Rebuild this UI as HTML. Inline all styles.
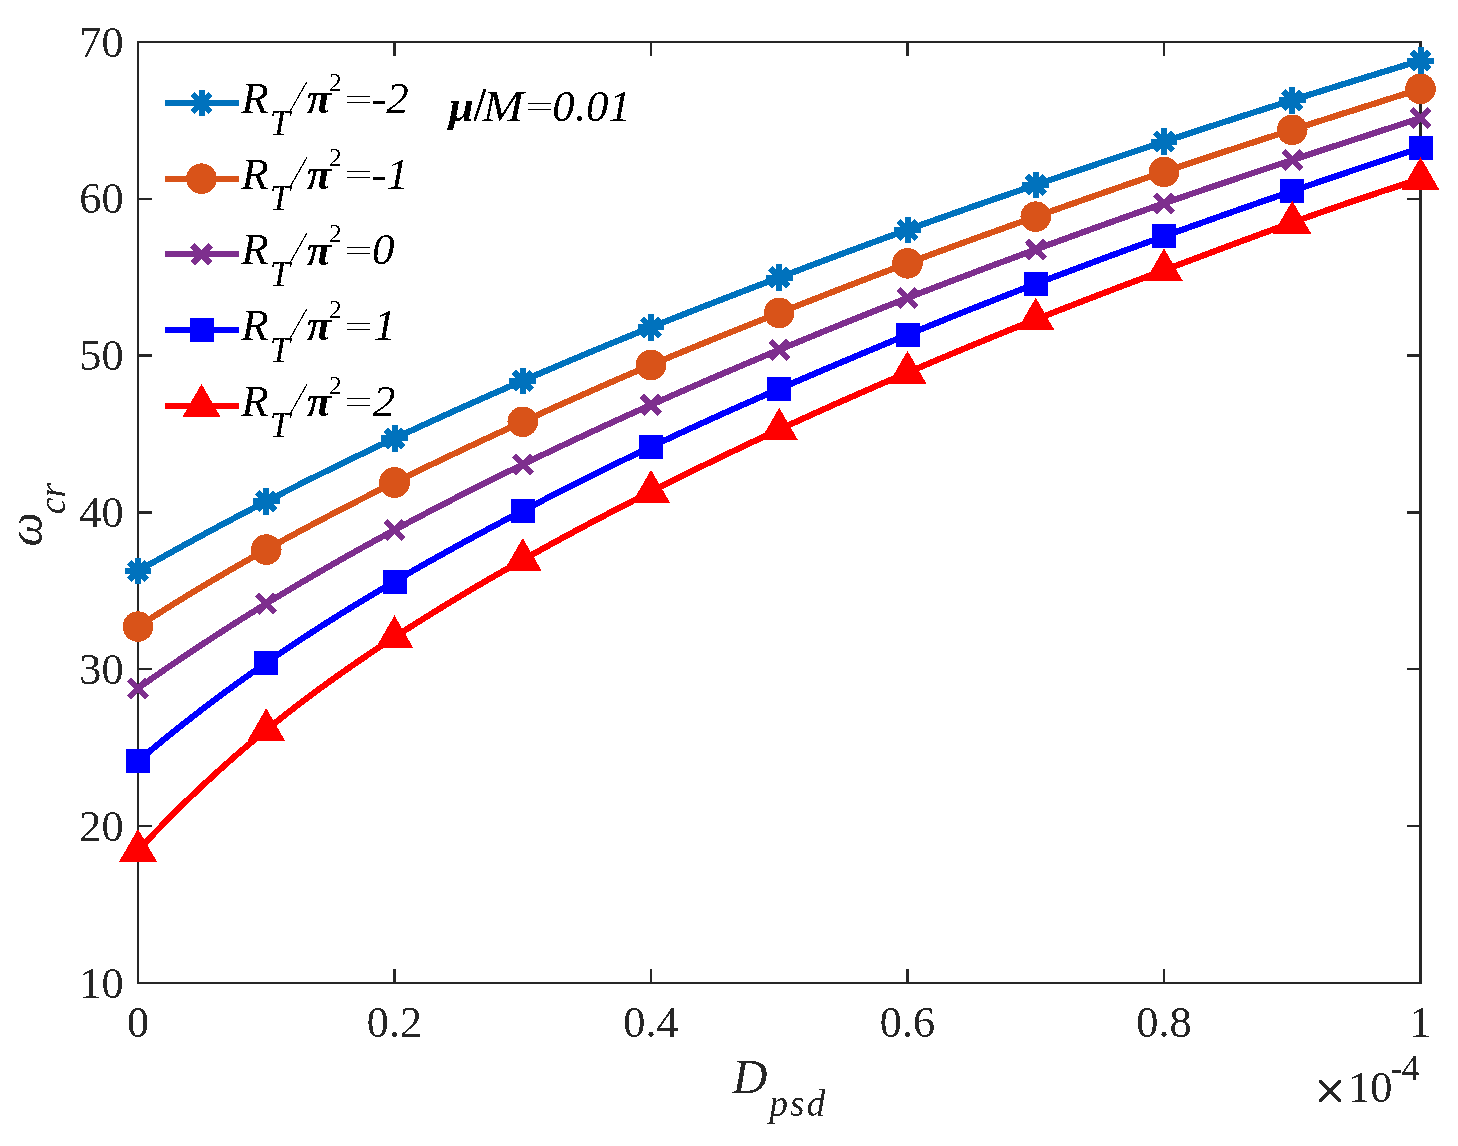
<!DOCTYPE html>
<html><head><meta charset="utf-8"><style>
html,body{margin:0;padding:0;background:#fff;}
body{width:1458px;height:1146px;overflow:hidden;}
svg{display:block;}
path,rect,circle{shape-rendering:crispEdges;}
text{font-family:"Liberation Serif",serif;}
</style></head><body>
<svg width="1458" height="1146" viewBox="0 0 1458 1146">
<defs><filter id="al" x="0" y="0" width="1458" height="1146" filterUnits="userSpaceOnUse" color-interpolation-filters="sRGB"><feComponentTransfer><feFuncA type="discrete" tableValues="0 1"/></feComponentTransfer></filter></defs>
<rect width="1458" height="1146" fill="#fff"/>
<path d="M138.00 571.00 L143.34 567.95 L148.69 564.92 L154.03 561.90 L159.38 558.90 L164.72 555.90 L170.06 552.92 L175.41 549.96 L180.75 547.00 L186.09 544.06 L191.44 541.13 L196.78 538.21 L202.12 535.31 L207.47 532.42 L212.81 529.54 L218.16 526.67 L223.50 523.81 L228.84 520.97 L234.19 518.14 L239.53 515.32 L244.88 512.51 L250.22 509.72 L255.56 506.93 L260.91 504.16 L266.25 501.40 L271.59 498.65 L276.94 495.91 L282.28 493.19 L287.62 490.47 L292.97 487.77 L298.31 485.07 L303.66 482.39 L309.00 479.72 L314.34 477.06 L319.69 474.41 L325.03 471.77 L330.38 469.14 L335.72 466.52 L341.06 463.92 L346.41 461.32 L351.75 458.73 L357.09 456.16 L362.44 453.59 L367.78 451.03 L373.12 448.49 L378.47 445.95 L383.81 443.42 L389.16 440.91 L394.50 438.40 L399.84 435.90 L405.19 433.41 L410.53 430.94 L415.88 428.47 L421.22 426.01 L426.56 423.55 L431.91 421.11 L437.25 418.68 L442.59 416.25 L447.94 413.83 L453.28 411.43 L458.62 409.02 L463.97 406.63 L469.31 404.25 L474.66 401.87 L480.00 399.50 L485.34 397.14 L490.69 394.78 L496.03 392.43 L501.38 390.09 L506.72 387.76 L512.06 385.43 L517.41 383.11 L522.75 380.80 L528.09 378.49 L533.44 376.19 L538.78 373.90 L544.12 371.61 L549.47 369.33 L554.81 367.05 L560.16 364.79 L565.50 362.53 L570.84 360.27 L576.19 358.02 L581.53 355.78 L586.88 353.55 L592.22 351.32 L597.56 349.10 L602.91 346.89 L608.25 344.68 L613.59 342.49 L618.94 340.29 L624.28 338.11 L629.62 335.93 L634.97 333.76 L640.31 331.60 L645.66 329.45 L651.00 327.30 L656.34 325.16 L661.69 323.03 L667.03 320.90 L672.38 318.78 L677.72 316.67 L683.06 314.57 L688.41 312.47 L693.75 310.37 L699.09 308.29 L704.44 306.20 L709.78 304.13 L715.12 302.06 L720.47 299.99 L725.81 297.93 L731.16 295.87 L736.50 293.81 L741.84 291.76 L747.19 289.72 L752.53 287.67 L757.88 285.63 L763.22 283.60 L768.56 281.56 L773.91 279.53 L779.25 277.50 L784.59 275.47 L789.94 273.45 L795.28 271.42 L800.62 269.40 L805.97 267.39 L811.31 265.37 L816.66 263.36 L822.00 261.35 L827.34 259.34 L832.69 257.34 L838.03 255.35 L843.38 253.35 L848.72 251.36 L854.06 249.38 L859.41 247.40 L864.75 245.42 L870.09 243.45 L875.44 241.48 L880.78 239.52 L886.12 237.57 L891.47 235.62 L896.81 233.67 L902.16 231.73 L907.50 229.80 L912.84 227.87 L918.19 225.95 L923.53 224.04 L928.88 222.13 L934.22 220.23 L939.56 218.33 L944.91 216.44 L950.25 214.55 L955.59 212.67 L960.94 210.79 L966.28 208.92 L971.62 207.05 L976.97 205.18 L982.31 203.32 L987.66 201.47 L993.00 199.61 L998.34 197.76 L1003.69 195.92 L1009.03 194.08 L1014.38 192.23 L1019.72 190.40 L1025.06 188.56 L1030.41 186.73 L1035.75 184.90 L1041.09 183.07 L1046.44 181.25 L1051.78 179.42 L1057.12 177.60 L1062.47 175.78 L1067.81 173.96 L1073.16 172.15 L1078.50 170.34 L1083.84 168.53 L1089.19 166.72 L1094.53 164.92 L1099.88 163.11 L1105.22 161.31 L1110.56 159.52 L1115.91 157.72 L1121.25 155.93 L1126.59 154.14 L1131.94 152.36 L1137.28 150.57 L1142.62 148.79 L1147.97 147.01 L1153.31 145.24 L1158.66 143.47 L1164.00 141.70 L1169.34 139.93 L1174.69 138.17 L1180.03 136.41 L1185.38 134.66 L1190.72 132.90 L1196.06 131.15 L1201.41 129.41 L1206.75 127.66 L1212.09 125.92 L1217.44 124.19 L1222.78 122.45 L1228.12 120.72 L1233.47 118.99 L1238.81 117.27 L1244.16 115.55 L1249.50 113.83 L1254.84 112.11 L1260.19 110.40 L1265.53 108.69 L1270.88 106.99 L1276.22 105.29 L1281.56 103.59 L1286.91 101.89 L1292.25 100.20 L1297.59 98.51 L1302.94 96.83 L1308.28 95.14 L1313.62 93.46 L1318.97 91.79 L1324.31 90.12 L1329.66 88.45 L1335.00 86.78 L1340.34 85.12 L1345.69 83.46 L1351.03 81.81 L1356.38 80.15 L1361.72 78.51 L1367.06 76.86 L1372.41 75.22 L1377.75 73.58 L1383.09 71.95 L1388.44 70.31 L1393.78 68.69 L1399.12 67.06 L1404.47 65.44 L1409.81 63.82 L1415.16 62.21 L1420.50 60.60" stroke="#0072BD" stroke-width="6.2" fill="none" stroke-linejoin="round"/>
<path d="M138.00 626.60 L143.34 623.15 L148.69 619.72 L154.03 616.32 L159.38 612.93 L164.72 609.57 L170.06 606.23 L175.41 602.92 L180.75 599.62 L186.09 596.35 L191.44 593.09 L196.78 589.86 L202.12 586.65 L207.47 583.45 L212.81 580.28 L218.16 577.13 L223.50 574.00 L228.84 570.88 L234.19 567.79 L239.53 564.71 L244.88 561.65 L250.22 558.61 L255.56 555.59 L260.91 552.59 L266.25 549.60 L271.59 546.63 L276.94 543.68 L282.28 540.74 L287.62 537.82 L292.97 534.92 L298.31 532.03 L303.66 529.16 L309.00 526.30 L314.34 523.46 L319.69 520.64 L325.03 517.83 L330.38 515.03 L335.72 512.25 L341.06 509.48 L346.41 506.72 L351.75 503.98 L357.09 501.25 L362.44 498.54 L367.78 495.83 L373.12 493.14 L378.47 490.46 L383.81 487.80 L389.16 485.14 L394.50 482.50 L399.84 479.87 L405.19 477.25 L410.53 474.64 L415.88 472.04 L421.22 469.45 L426.56 466.87 L431.91 464.30 L437.25 461.73 L442.59 459.18 L447.94 456.64 L453.28 454.10 L458.62 451.58 L463.97 449.06 L469.31 446.55 L474.66 444.04 L480.00 441.55 L485.34 439.06 L490.69 436.57 L496.03 434.10 L501.38 431.63 L506.72 429.16 L512.06 426.70 L517.41 424.25 L522.75 421.80 L528.09 419.36 L533.44 416.92 L538.78 414.48 L544.12 412.05 L549.47 409.63 L554.81 407.21 L560.16 404.80 L565.50 402.40 L570.84 400.00 L576.19 397.61 L581.53 395.23 L586.88 392.85 L592.22 390.48 L597.56 388.12 L602.91 385.77 L608.25 383.42 L613.59 381.09 L618.94 378.76 L624.28 376.44 L629.62 374.14 L634.97 371.84 L640.31 369.55 L645.66 367.27 L651.00 365.00 L656.34 362.74 L661.69 360.49 L667.03 358.25 L672.38 356.03 L677.72 353.81 L683.06 351.60 L688.41 349.39 L693.75 347.20 L699.09 345.01 L704.44 342.83 L709.78 340.66 L715.12 338.49 L720.47 336.33 L725.81 334.18 L731.16 332.03 L736.50 329.89 L741.84 327.75 L747.19 325.62 L752.53 323.49 L757.88 321.37 L763.22 319.25 L768.56 317.13 L773.91 315.01 L779.25 312.90 L784.59 310.79 L789.94 308.68 L795.28 306.58 L800.62 304.47 L805.97 302.37 L811.31 300.28 L816.66 298.18 L822.00 296.09 L827.34 294.01 L832.69 291.93 L838.03 289.85 L843.38 287.77 L848.72 285.70 L854.06 283.64 L859.41 281.58 L864.75 279.53 L870.09 277.48 L875.44 275.43 L880.78 273.40 L886.12 271.36 L891.47 269.34 L896.81 267.32 L902.16 265.31 L907.50 263.30 L912.84 261.30 L918.19 259.31 L923.53 257.32 L928.88 255.34 L934.22 253.37 L939.56 251.40 L944.91 249.44 L950.25 247.48 L955.59 245.53 L960.94 243.58 L966.28 241.64 L971.62 239.70 L976.97 237.77 L982.31 235.84 L987.66 233.91 L993.00 231.99 L998.34 230.07 L1003.69 228.15 L1009.03 226.24 L1014.38 224.32 L1019.72 222.42 L1025.06 220.51 L1030.41 218.60 L1035.75 216.70 L1041.09 214.80 L1046.44 212.90 L1051.78 211.00 L1057.12 209.10 L1062.47 207.21 L1067.81 205.32 L1073.16 203.43 L1078.50 201.54 L1083.84 199.66 L1089.19 197.78 L1094.53 195.90 L1099.88 194.03 L1105.22 192.16 L1110.56 190.29 L1115.91 188.43 L1121.25 186.57 L1126.59 184.72 L1131.94 182.87 L1137.28 181.03 L1142.62 179.19 L1147.97 177.36 L1153.31 175.54 L1158.66 173.71 L1164.00 171.90 L1169.34 170.09 L1174.69 168.29 L1180.03 166.49 L1185.38 164.70 L1190.72 162.91 L1196.06 161.13 L1201.41 159.36 L1206.75 157.59 L1212.09 155.82 L1217.44 154.06 L1222.78 152.31 L1228.12 150.55 L1233.47 148.81 L1238.81 147.06 L1244.16 145.32 L1249.50 143.58 L1254.84 141.85 L1260.19 140.12 L1265.53 138.39 L1270.88 136.67 L1276.22 134.95 L1281.56 133.23 L1286.91 131.51 L1292.25 129.80 L1297.59 128.09 L1302.94 126.38 L1308.28 124.67 L1313.62 122.96 L1318.97 121.26 L1324.31 119.55 L1329.66 117.85 L1335.00 116.15 L1340.34 114.45 L1345.69 112.75 L1351.03 111.05 L1356.38 109.35 L1361.72 107.65 L1367.06 105.95 L1372.41 104.25 L1377.75 102.54 L1383.09 100.84 L1388.44 99.14 L1393.78 97.44 L1399.12 95.73 L1404.47 94.03 L1409.81 92.32 L1415.16 90.61 L1420.50 88.90" stroke="#D95319" stroke-width="6.2" fill="none" stroke-linejoin="round"/>
<path d="M138.00 688.30 L143.34 684.52 L148.69 680.77 L154.03 677.04 L159.38 673.33 L164.72 669.64 L170.06 665.98 L175.41 662.34 L180.75 658.72 L186.09 655.12 L191.44 651.55 L196.78 648.00 L202.12 644.47 L207.47 640.96 L212.81 637.47 L218.16 634.00 L223.50 630.55 L228.84 627.13 L234.19 623.72 L239.53 620.34 L244.88 616.97 L250.22 613.62 L255.56 610.30 L260.91 606.99 L266.25 603.70 L271.59 600.43 L276.94 597.18 L282.28 593.95 L287.62 590.73 L292.97 587.54 L298.31 584.36 L303.66 581.20 L309.00 578.06 L314.34 574.93 L319.69 571.82 L325.03 568.73 L330.38 565.66 L335.72 562.60 L341.06 559.56 L346.41 556.53 L351.75 553.52 L357.09 550.53 L362.44 547.55 L367.78 544.59 L373.12 541.64 L378.47 538.71 L383.81 535.79 L389.16 532.89 L394.50 530.00 L399.84 527.13 L405.19 524.26 L410.53 521.42 L415.88 518.58 L421.22 515.76 L426.56 512.96 L431.91 510.16 L437.25 507.38 L442.59 504.62 L447.94 501.86 L453.28 499.12 L458.62 496.39 L463.97 493.67 L469.31 490.96 L474.66 488.27 L480.00 485.58 L485.34 482.91 L490.69 480.25 L496.03 477.60 L501.38 474.96 L506.72 472.33 L512.06 469.71 L517.41 467.10 L522.75 464.50 L528.09 461.91 L533.44 459.33 L538.78 456.76 L544.12 454.20 L549.47 451.65 L554.81 449.11 L560.16 446.58 L565.50 444.06 L570.84 441.54 L576.19 439.04 L581.53 436.54 L586.88 434.06 L592.22 431.58 L597.56 429.11 L602.91 426.65 L608.25 424.20 L613.59 421.76 L618.94 419.33 L624.28 416.90 L629.62 414.48 L634.97 412.08 L640.31 409.68 L645.66 407.28 L651.00 404.90 L656.34 402.52 L661.69 400.16 L667.03 397.80 L672.38 395.44 L677.72 393.10 L683.06 390.76 L688.41 388.43 L693.75 386.11 L699.09 383.79 L704.44 381.48 L709.78 379.18 L715.12 376.88 L720.47 374.59 L725.81 372.31 L731.16 370.03 L736.50 367.76 L741.84 365.50 L747.19 363.24 L752.53 360.99 L757.88 358.74 L763.22 356.50 L768.56 354.26 L773.91 352.03 L779.25 349.80 L784.59 347.58 L789.94 345.36 L795.28 343.15 L800.62 340.94 L805.97 338.74 L811.31 336.55 L816.66 334.36 L822.00 332.17 L827.34 329.99 L832.69 327.82 L838.03 325.65 L843.38 323.49 L848.72 321.33 L854.06 319.18 L859.41 317.03 L864.75 314.89 L870.09 312.76 L875.44 310.63 L880.78 308.51 L886.12 306.40 L891.47 304.29 L896.81 302.19 L902.16 300.09 L907.50 298.00 L912.84 295.92 L918.19 293.84 L923.53 291.77 L928.88 289.71 L934.22 287.65 L939.56 285.60 L944.91 283.55 L950.25 281.51 L955.59 279.47 L960.94 277.44 L966.28 275.42 L971.62 273.40 L976.97 271.38 L982.31 269.37 L987.66 267.37 L993.00 265.37 L998.34 263.37 L1003.69 261.38 L1009.03 259.39 L1014.38 257.40 L1019.72 255.42 L1025.06 253.44 L1030.41 251.47 L1035.75 249.50 L1041.09 247.53 L1046.44 245.57 L1051.78 243.61 L1057.12 241.65 L1062.47 239.70 L1067.81 237.75 L1073.16 235.80 L1078.50 233.86 L1083.84 231.92 L1089.19 229.99 L1094.53 228.06 L1099.88 226.13 L1105.22 224.21 L1110.56 222.29 L1115.91 220.38 L1121.25 218.48 L1126.59 216.57 L1131.94 214.68 L1137.28 212.78 L1142.62 210.90 L1147.97 209.01 L1153.31 207.14 L1158.66 205.27 L1164.00 203.40 L1169.34 201.54 L1174.69 199.69 L1180.03 197.84 L1185.38 195.99 L1190.72 194.15 L1196.06 192.32 L1201.41 190.49 L1206.75 188.66 L1212.09 186.84 L1217.44 185.03 L1222.78 183.22 L1228.12 181.41 L1233.47 179.61 L1238.81 177.81 L1244.16 176.01 L1249.50 174.22 L1254.84 172.43 L1260.19 170.65 L1265.53 168.87 L1270.88 167.09 L1276.22 165.31 L1281.56 163.54 L1286.91 161.77 L1292.25 160.00 L1297.59 158.23 L1302.94 156.47 L1308.28 154.71 L1313.62 152.95 L1318.97 151.20 L1324.31 149.44 L1329.66 147.69 L1335.00 145.94 L1340.34 144.18 L1345.69 142.44 L1351.03 140.69 L1356.38 138.94 L1361.72 137.19 L1367.06 135.45 L1372.41 133.70 L1377.75 131.96 L1383.09 130.21 L1388.44 128.47 L1393.78 126.73 L1399.12 124.98 L1404.47 123.24 L1409.81 121.49 L1415.16 119.75 L1420.50 118.00" stroke="#7E2F8E" stroke-width="6.2" fill="none" stroke-linejoin="round"/>
<path d="M138.00 761.10 L143.34 756.58 L148.69 752.09 L154.03 747.65 L159.38 743.25 L164.72 738.88 L170.06 734.56 L175.41 730.27 L180.75 726.03 L186.09 721.81 L191.44 717.64 L196.78 713.50 L202.12 709.40 L207.47 705.33 L212.81 701.30 L218.16 697.31 L223.50 693.34 L228.84 689.41 L234.19 685.52 L239.53 681.65 L244.88 677.82 L250.22 674.02 L255.56 670.25 L260.91 666.51 L266.25 662.80 L271.59 659.12 L276.94 655.47 L282.28 651.85 L287.62 648.25 L292.97 644.69 L298.31 641.15 L303.66 637.63 L309.00 634.15 L314.34 630.69 L319.69 627.25 L325.03 623.84 L330.38 620.45 L335.72 617.09 L341.06 613.74 L346.41 610.43 L351.75 607.13 L357.09 603.86 L362.44 600.60 L367.78 597.37 L373.12 594.16 L378.47 590.96 L383.81 587.79 L389.16 584.64 L394.50 581.50 L399.84 578.38 L405.19 575.28 L410.53 572.20 L415.88 569.13 L421.22 566.08 L426.56 563.04 L431.91 560.02 L437.25 557.02 L442.59 554.03 L447.94 551.06 L453.28 548.10 L458.62 545.15 L463.97 542.22 L469.31 539.30 L474.66 536.40 L480.00 533.51 L485.34 530.63 L490.69 527.76 L496.03 524.91 L501.38 522.06 L506.72 519.23 L512.06 516.41 L517.41 513.60 L522.75 510.80 L528.09 508.01 L533.44 505.23 L538.78 502.46 L544.12 499.70 L549.47 496.95 L554.81 494.21 L560.16 491.49 L565.50 488.77 L570.84 486.06 L576.19 483.37 L581.53 480.68 L586.88 478.01 L592.22 475.34 L597.56 472.69 L602.91 470.05 L608.25 467.42 L613.59 464.80 L618.94 462.20 L624.28 459.60 L629.62 457.02 L634.97 454.45 L640.31 451.89 L645.66 449.34 L651.00 446.80 L656.34 444.28 L661.69 441.76 L667.03 439.26 L672.38 436.77 L677.72 434.29 L683.06 431.82 L688.41 429.36 L693.75 426.92 L699.09 424.48 L704.44 422.05 L709.78 419.63 L715.12 417.22 L720.47 414.82 L725.81 412.42 L731.16 410.04 L736.50 407.66 L741.84 405.29 L747.19 402.93 L752.53 400.58 L757.88 398.23 L763.22 395.89 L768.56 393.55 L773.91 391.22 L779.25 388.90 L784.59 386.58 L789.94 384.27 L795.28 381.96 L800.62 379.66 L805.97 377.37 L811.31 375.08 L816.66 372.80 L822.00 370.52 L827.34 368.24 L832.69 365.98 L838.03 363.71 L843.38 361.46 L848.72 359.21 L854.06 356.96 L859.41 354.72 L864.75 352.48 L870.09 350.25 L875.44 348.03 L880.78 345.81 L886.12 343.60 L891.47 341.39 L896.81 339.19 L902.16 336.99 L907.50 334.80 L912.84 332.61 L918.19 330.43 L923.53 328.26 L928.88 326.09 L934.22 323.92 L939.56 321.76 L944.91 319.61 L950.25 317.46 L955.59 315.32 L960.94 313.19 L966.28 311.05 L971.62 308.93 L976.97 306.81 L982.31 304.70 L987.66 302.59 L993.00 300.49 L998.34 298.39 L1003.69 296.31 L1009.03 294.22 L1014.38 292.15 L1019.72 290.08 L1025.06 288.01 L1030.41 285.95 L1035.75 283.90 L1041.09 281.85 L1046.44 279.81 L1051.78 277.78 L1057.12 275.75 L1062.47 273.73 L1067.81 271.72 L1073.16 269.71 L1078.50 267.70 L1083.84 265.70 L1089.19 263.71 L1094.53 261.72 L1099.88 259.74 L1105.22 257.76 L1110.56 255.78 L1115.91 253.82 L1121.25 251.85 L1126.59 249.89 L1131.94 247.94 L1137.28 245.99 L1142.62 244.04 L1147.97 242.10 L1153.31 240.16 L1158.66 238.23 L1164.00 236.30 L1169.34 234.37 L1174.69 232.45 L1180.03 230.53 L1185.38 228.62 L1190.72 226.71 L1196.06 224.80 L1201.41 222.90 L1206.75 221.00 L1212.09 219.10 L1217.44 217.21 L1222.78 215.32 L1228.12 213.44 L1233.47 211.56 L1238.81 209.68 L1244.16 207.81 L1249.50 205.93 L1254.84 204.07 L1260.19 202.20 L1265.53 200.35 L1270.88 198.49 L1276.22 196.64 L1281.56 194.79 L1286.91 192.94 L1292.25 191.10 L1297.59 189.26 L1302.94 187.43 L1308.28 185.59 L1313.62 183.77 L1318.97 181.94 L1324.31 180.12 L1329.66 178.30 L1335.00 176.49 L1340.34 174.68 L1345.69 172.87 L1351.03 171.06 L1356.38 169.26 L1361.72 167.46 L1367.06 165.67 L1372.41 163.88 L1377.75 162.09 L1383.09 160.30 L1388.44 158.52 L1393.78 156.74 L1399.12 154.97 L1404.47 153.20 L1409.81 151.43 L1415.16 149.66 L1420.50 147.90" stroke="#0000FF" stroke-width="6.2" fill="none" stroke-linejoin="round"/>
<path d="M138.00 850.70 L143.34 844.93 L148.69 839.24 L154.03 833.62 L159.38 828.06 L164.72 822.58 L170.06 817.16 L175.41 811.80 L180.75 806.52 L186.09 801.29 L191.44 796.14 L196.78 791.04 L202.12 786.00 L207.47 781.03 L212.81 776.11 L218.16 771.25 L223.50 766.45 L228.84 761.71 L234.19 757.02 L239.53 752.39 L244.88 747.81 L250.22 743.28 L255.56 738.80 L260.91 734.38 L266.25 730.00 L271.59 725.67 L276.94 721.39 L282.28 717.16 L287.62 712.97 L292.97 708.82 L298.31 704.72 L303.66 700.66 L309.00 696.65 L314.34 692.67 L319.69 688.73 L325.03 684.83 L330.38 680.97 L335.72 677.15 L341.06 673.36 L346.41 669.60 L351.75 665.88 L357.09 662.19 L362.44 658.54 L367.78 654.91 L373.12 651.31 L378.47 647.74 L383.81 644.20 L389.16 640.69 L394.50 637.20 L399.84 633.74 L405.19 630.30 L410.53 626.88 L415.88 623.49 L421.22 620.12 L426.56 616.77 L431.91 613.44 L437.25 610.14 L442.59 606.86 L447.94 603.60 L453.28 600.35 L458.62 597.13 L463.97 593.93 L469.31 590.75 L474.66 587.59 L480.00 584.44 L485.34 581.32 L490.69 578.21 L496.03 575.11 L501.38 572.04 L506.72 568.98 L512.06 565.94 L517.41 562.91 L522.75 559.90 L528.09 556.90 L533.44 553.92 L538.78 550.95 L544.12 548.00 L549.47 545.06 L554.81 542.13 L560.16 539.22 L565.50 536.32 L570.84 533.44 L576.19 530.56 L581.53 527.70 L586.88 524.86 L592.22 522.02 L597.56 519.20 L602.91 516.39 L608.25 513.59 L613.59 510.80 L618.94 508.03 L624.28 505.26 L629.62 502.51 L634.97 499.77 L640.31 497.03 L645.66 494.31 L651.00 491.60 L656.34 488.90 L661.69 486.21 L667.03 483.53 L672.38 480.85 L677.72 478.19 L683.06 475.54 L688.41 472.90 L693.75 470.27 L699.09 467.65 L704.44 465.03 L709.78 462.43 L715.12 459.84 L720.47 457.26 L725.81 454.69 L731.16 452.12 L736.50 449.57 L741.84 447.03 L747.19 444.49 L752.53 441.97 L757.88 439.46 L763.22 436.95 L768.56 434.46 L773.91 431.97 L779.25 429.50 L784.59 427.03 L789.94 424.58 L795.28 422.13 L800.62 419.70 L805.97 417.27 L811.31 414.85 L816.66 412.44 L822.00 410.04 L827.34 407.64 L832.69 405.26 L838.03 402.88 L843.38 400.51 L848.72 398.14 L854.06 395.79 L859.41 393.44 L864.75 391.10 L870.09 388.77 L875.44 386.44 L880.78 384.12 L886.12 381.80 L891.47 379.49 L896.81 377.19 L902.16 374.89 L907.50 372.60 L912.84 370.31 L918.19 368.03 L923.53 365.76 L928.88 363.49 L934.22 361.22 L939.56 358.97 L944.91 356.72 L950.25 354.47 L955.59 352.23 L960.94 350.00 L966.28 347.77 L971.62 345.55 L976.97 343.34 L982.31 341.14 L987.66 338.94 L993.00 336.75 L998.34 334.57 L1003.69 332.39 L1009.03 330.22 L1014.38 328.06 L1019.72 325.91 L1025.06 323.76 L1030.41 321.63 L1035.75 319.50 L1041.09 317.38 L1046.44 315.27 L1051.78 313.16 L1057.12 311.07 L1062.47 308.98 L1067.81 306.90 L1073.16 304.82 L1078.50 302.75 L1083.84 300.69 L1089.19 298.63 L1094.53 296.57 L1099.88 294.52 L1105.22 292.48 L1110.56 290.44 L1115.91 288.40 L1121.25 286.37 L1126.59 284.34 L1131.94 282.32 L1137.28 280.29 L1142.62 278.27 L1147.97 276.25 L1153.31 274.23 L1158.66 272.22 L1164.00 270.20 L1169.34 268.18 L1174.69 266.17 L1180.03 264.16 L1185.38 262.15 L1190.72 260.14 L1196.06 258.13 L1201.41 256.12 L1206.75 254.12 L1212.09 252.12 L1217.44 250.12 L1222.78 248.12 L1228.12 246.13 L1233.47 244.15 L1238.81 242.16 L1244.16 240.18 L1249.50 238.21 L1254.84 236.24 L1260.19 234.27 L1265.53 232.31 L1270.88 230.36 L1276.22 228.41 L1281.56 226.47 L1286.91 224.53 L1292.25 222.60 L1297.59 220.68 L1302.94 218.76 L1308.28 216.85 L1313.62 214.95 L1318.97 213.06 L1324.31 211.17 L1329.66 209.29 L1335.00 207.43 L1340.34 205.57 L1345.69 203.71 L1351.03 201.87 L1356.38 200.04 L1361.72 198.22 L1367.06 196.41 L1372.41 194.61 L1377.75 192.82 L1383.09 191.04 L1388.44 189.27 L1393.78 187.51 L1399.12 185.76 L1404.47 184.03 L1409.81 182.31 L1415.16 180.60 L1420.50 178.90" stroke="#FF0000" stroke-width="6.2" fill="none" stroke-linejoin="round"/>
<path d="M138.00 982.90V968.90M138.00 42.00V56.00M394.50 982.90V968.90M394.50 42.00V56.00M651.00 982.90V968.90M651.00 42.00V56.00M907.50 982.90V968.90M907.50 42.00V56.00M1164.00 982.90V968.90M1164.00 42.00V56.00M1420.50 982.90V968.90M1420.50 42.00V56.00M138.00 982.90H152.00M1420.50 982.90H1406.50M138.00 826.08H152.00M1420.50 826.08H1406.50M138.00 669.27H152.00M1420.50 669.27H1406.50M138.00 512.45H152.00M1420.50 512.45H1406.50M138.00 355.63H152.00M1420.50 355.63H1406.50M138.00 198.82H152.00M1420.50 198.82H1406.50M138.00 42.00H152.00M1420.50 42.00H1406.50" stroke="#262626" stroke-width="2.4" fill="none"/>
<rect x="138.00" y="42.00" width="1282.50" height="940.90" stroke="#262626" stroke-width="2.4" fill="none"/>
<path d="M138.00 557.70V584.30M124.70 571.00H151.30M129.10 562.10L146.90 579.90M129.10 579.90L146.90 562.10" stroke="#0072BD" stroke-width="6.0" fill="none"/>
<path d="M266.25 488.10V514.70M252.95 501.40H279.55M257.35 492.50L275.15 510.30M257.35 510.30L275.15 492.50" stroke="#0072BD" stroke-width="6.0" fill="none"/>
<path d="M394.50 425.10V451.70M381.20 438.40H407.80M385.60 429.50L403.40 447.30M385.60 447.30L403.40 429.50" stroke="#0072BD" stroke-width="6.0" fill="none"/>
<path d="M522.75 367.50V394.10M509.45 380.80H536.05M513.85 371.90L531.65 389.70M513.85 389.70L531.65 371.90" stroke="#0072BD" stroke-width="6.0" fill="none"/>
<path d="M651.00 314.00V340.60M637.70 327.30H664.30M642.10 318.40L659.90 336.20M642.10 336.20L659.90 318.40" stroke="#0072BD" stroke-width="6.0" fill="none"/>
<path d="M779.25 264.20V290.80M765.95 277.50H792.55M770.35 268.60L788.15 286.40M770.35 286.40L788.15 268.60" stroke="#0072BD" stroke-width="6.0" fill="none"/>
<path d="M907.50 216.50V243.10M894.20 229.80H920.80M898.60 220.90L916.40 238.70M898.60 238.70L916.40 220.90" stroke="#0072BD" stroke-width="6.0" fill="none"/>
<path d="M1035.75 171.60V198.20M1022.45 184.90H1049.05M1026.85 176.00L1044.65 193.80M1026.85 193.80L1044.65 176.00" stroke="#0072BD" stroke-width="6.0" fill="none"/>
<path d="M1164.00 128.40V155.00M1150.70 141.70H1177.30M1155.10 132.80L1172.90 150.60M1155.10 150.60L1172.90 132.80" stroke="#0072BD" stroke-width="6.0" fill="none"/>
<path d="M1292.25 86.90V113.50M1278.95 100.20H1305.55M1283.35 91.30L1301.15 109.10M1283.35 109.10L1301.15 91.30" stroke="#0072BD" stroke-width="6.0" fill="none"/>
<path d="M1420.50 47.30V73.90M1407.20 60.60H1433.80M1411.60 51.70L1429.40 69.50M1411.60 69.50L1429.40 51.70" stroke="#0072BD" stroke-width="6.0" fill="none"/>
<circle cx="138.00" cy="626.60" r="15.3" fill="#D95319"/>
<circle cx="266.25" cy="549.60" r="15.3" fill="#D95319"/>
<circle cx="394.50" cy="482.50" r="15.3" fill="#D95319"/>
<circle cx="522.75" cy="421.80" r="15.3" fill="#D95319"/>
<circle cx="651.00" cy="365.00" r="15.3" fill="#D95319"/>
<circle cx="779.25" cy="312.90" r="15.3" fill="#D95319"/>
<circle cx="907.50" cy="263.30" r="15.3" fill="#D95319"/>
<circle cx="1035.75" cy="216.70" r="15.3" fill="#D95319"/>
<circle cx="1164.00" cy="171.90" r="15.3" fill="#D95319"/>
<circle cx="1292.25" cy="129.80" r="15.3" fill="#D95319"/>
<circle cx="1420.50" cy="88.90" r="15.3" fill="#D95319"/>
<path d="M129.00 679.30L147.00 697.30M129.00 697.30L147.00 679.30" stroke="#7E2F8E" stroke-width="6.0" fill="none"/>
<path d="M257.25 594.70L275.25 612.70M257.25 612.70L275.25 594.70" stroke="#7E2F8E" stroke-width="6.0" fill="none"/>
<path d="M385.50 521.00L403.50 539.00M385.50 539.00L403.50 521.00" stroke="#7E2F8E" stroke-width="6.0" fill="none"/>
<path d="M513.75 455.50L531.75 473.50M513.75 473.50L531.75 455.50" stroke="#7E2F8E" stroke-width="6.0" fill="none"/>
<path d="M642.00 395.90L660.00 413.90M642.00 413.90L660.00 395.90" stroke="#7E2F8E" stroke-width="6.0" fill="none"/>
<path d="M770.25 340.80L788.25 358.80M770.25 358.80L788.25 340.80" stroke="#7E2F8E" stroke-width="6.0" fill="none"/>
<path d="M898.50 289.00L916.50 307.00M898.50 307.00L916.50 289.00" stroke="#7E2F8E" stroke-width="6.0" fill="none"/>
<path d="M1026.75 240.50L1044.75 258.50M1026.75 258.50L1044.75 240.50" stroke="#7E2F8E" stroke-width="6.0" fill="none"/>
<path d="M1155.00 194.40L1173.00 212.40M1155.00 212.40L1173.00 194.40" stroke="#7E2F8E" stroke-width="6.0" fill="none"/>
<path d="M1283.25 151.00L1301.25 169.00M1283.25 169.00L1301.25 151.00" stroke="#7E2F8E" stroke-width="6.0" fill="none"/>
<path d="M1411.50 109.00L1429.50 127.00M1411.50 127.00L1429.50 109.00" stroke="#7E2F8E" stroke-width="6.0" fill="none"/>
<rect x="126.00" y="749.10" width="24" height="24" fill="#0000FF"/>
<rect x="254.25" y="650.80" width="24" height="24" fill="#0000FF"/>
<rect x="382.50" y="569.50" width="24" height="24" fill="#0000FF"/>
<rect x="510.75" y="498.80" width="24" height="24" fill="#0000FF"/>
<rect x="639.00" y="434.80" width="24" height="24" fill="#0000FF"/>
<rect x="767.25" y="376.90" width="24" height="24" fill="#0000FF"/>
<rect x="895.50" y="322.80" width="24" height="24" fill="#0000FF"/>
<rect x="1023.75" y="271.90" width="24" height="24" fill="#0000FF"/>
<rect x="1152.00" y="224.30" width="24" height="24" fill="#0000FF"/>
<rect x="1280.25" y="179.10" width="24" height="24" fill="#0000FF"/>
<rect x="1408.50" y="135.90" width="24" height="24" fill="#0000FF"/>
<path d="M138.00 828.90L156.88 861.60L119.12 861.60Z" fill="#FF0000"/>
<path d="M266.25 708.20L285.13 740.90L247.37 740.90Z" fill="#FF0000"/>
<path d="M394.50 615.40L413.38 648.10L375.62 648.10Z" fill="#FF0000"/>
<path d="M522.75 538.10L541.63 570.80L503.87 570.80Z" fill="#FF0000"/>
<path d="M651.00 469.80L669.88 502.50L632.12 502.50Z" fill="#FF0000"/>
<path d="M779.25 407.70L798.13 440.40L760.37 440.40Z" fill="#FF0000"/>
<path d="M907.50 350.80L926.38 383.50L888.62 383.50Z" fill="#FF0000"/>
<path d="M1035.75 297.70L1054.63 330.40L1016.87 330.40Z" fill="#FF0000"/>
<path d="M1164.00 248.40L1182.88 281.10L1145.12 281.10Z" fill="#FF0000"/>
<path d="M1292.25 200.80L1311.13 233.50L1273.37 233.50Z" fill="#FF0000"/>
<path d="M1420.50 157.10L1439.38 189.80L1401.62 189.80Z" fill="#FF0000"/>
<path d="M165 103.00H239" stroke="#0072BD" stroke-width="6" fill="none"/>
<path d="M201.50 89.70V116.30M188.20 103.00H214.80M192.60 94.10L210.40 111.90M192.60 111.90L210.40 94.10" stroke="#0072BD" stroke-width="6.0" fill="none"/>
<path d="M290.2 111.10L306.8 81.90" stroke="#000" stroke-width="1.2"/>
<rect x="347" y="96" width="23" height="1" fill="#000"/><rect x="347" y="102" width="23" height="1" fill="#000"/>
<path d="M165 178.68H239" stroke="#D95319" stroke-width="6" fill="none"/>
<circle cx="201.50" cy="178.68" r="15.3" fill="#D95319"/>
<path d="M290.2 186.78L306.8 157.58" stroke="#000" stroke-width="1.2"/>
<rect x="347" y="171" width="23" height="1" fill="#000"/><rect x="347" y="177" width="23" height="1" fill="#000"/>
<path d="M165 254.36H239" stroke="#7E2F8E" stroke-width="6" fill="none"/>
<path d="M192.50 245.36L210.50 263.36M192.50 263.36L210.50 245.36" stroke="#7E2F8E" stroke-width="6.0" fill="none"/>
<path d="M290.2 262.46L306.8 233.26" stroke="#000" stroke-width="1.2"/>
<rect x="347" y="247" width="23" height="1" fill="#000"/><rect x="347" y="253" width="23" height="1" fill="#000"/>
<path d="M165 330.04H239" stroke="#0000FF" stroke-width="6" fill="none"/>
<rect x="189.50" y="318.04" width="24" height="24" fill="#0000FF"/>
<path d="M290.2 338.14L306.8 308.94" stroke="#000" stroke-width="1.2"/>
<rect x="347" y="323" width="23" height="1" fill="#000"/><rect x="347" y="329" width="23" height="1" fill="#000"/>
<path d="M165 405.72H239" stroke="#FF0000" stroke-width="6" fill="none"/>
<path d="M201.50 383.92L220.38 416.62L182.62 416.62Z" fill="#FF0000"/>
<path d="M290.2 413.82L306.8 384.62" stroke="#000" stroke-width="1.2"/>
<rect x="347" y="398" width="23" height="1" fill="#000"/><rect x="347" y="405" width="23" height="1" fill="#000"/>
<path d="M474.6 120.8L484.9 89.3" stroke="#000" stroke-width="2.6"/>
<rect x="528" y="103" width="23" height="1" fill="#000"/><rect x="528" y="109" width="23" height="1" fill="#000"/>
<path d="M1319 1080H1321.6L1341 1099.4V1102H1338.4L1319 1082.6ZM1341 1080V1082.6L1321.6 1102H1319V1099.4L1338.4 1080Z" fill="#262626"/>
<g filter="url(#al)">
<text x="123.6" y="997.50" text-anchor="end" font-size="44.3" fill="#262626">10</text>
<text x="123.6" y="840.68" text-anchor="end" font-size="44.3" fill="#262626">20</text>
<text x="123.6" y="683.87" text-anchor="end" font-size="44.3" fill="#262626">30</text>
<text x="123.6" y="527.05" text-anchor="end" font-size="44.3" fill="#262626">40</text>
<text x="123.6" y="370.23" text-anchor="end" font-size="44.3" fill="#262626">50</text>
<text x="123.6" y="213.42" text-anchor="end" font-size="44.3" fill="#262626">60</text>
<text x="123.6" y="56.60" text-anchor="end" font-size="44.3" fill="#262626">70</text>
<text x="138.00" y="1036.5" text-anchor="middle" font-size="44.3" fill="#262626">0</text>
<text x="394.50" y="1036.5" text-anchor="middle" font-size="44.3" fill="#262626">0.2</text>
<text x="651.00" y="1036.5" text-anchor="middle" font-size="44.3" fill="#262626">0.4</text>
<text x="907.50" y="1036.5" text-anchor="middle" font-size="44.3" fill="#262626">0.6</text>
<text x="1164.00" y="1036.5" text-anchor="middle" font-size="44.3" fill="#262626">0.8</text>
<text x="1420.50" y="1036.5" text-anchor="middle" font-size="44.3" fill="#262626">1</text>
<text x="241.14" y="112.90" font-size="45.0" font-style="italic" fill="#000">R</text>
<text x="269.63" y="134.70" font-size="36.2" font-style="italic" fill="#000">T</text>
<text x="306.67" y="113.20" font-size="44.5" font-style="italic" font-weight="bold" fill="#000">π</text>
<text x="328.88" y="90.80" font-size="25.4" fill="#000">2</text>
<text x="371.20" y="112.90" font-size="45.0" font-style="italic" fill="#000">-2</text>
<text x="241.14" y="188.58" font-size="45.0" font-style="italic" fill="#000">R</text>
<text x="269.63" y="210.38" font-size="36.2" font-style="italic" fill="#000">T</text>
<text x="306.67" y="188.88" font-size="44.5" font-style="italic" font-weight="bold" fill="#000">π</text>
<text x="328.88" y="166.48" font-size="25.4" fill="#000">2</text>
<text x="371.30" y="188.58" font-size="45.0" font-style="italic" fill="#000">-1</text>
<text x="241.14" y="264.26" font-size="45.0" font-style="italic" fill="#000">R</text>
<text x="269.63" y="286.06" font-size="36.2" font-style="italic" fill="#000">T</text>
<text x="306.67" y="264.56" font-size="44.5" font-style="italic" font-weight="bold" fill="#000">π</text>
<text x="328.88" y="242.16" font-size="25.4" fill="#000">2</text>
<text x="371.90" y="264.26" font-size="45.0" font-style="italic" fill="#000">0</text>
<text x="241.14" y="339.94" font-size="45.0" font-style="italic" fill="#000">R</text>
<text x="269.63" y="361.74" font-size="36.2" font-style="italic" fill="#000">T</text>
<text x="306.67" y="340.24" font-size="44.5" font-style="italic" font-weight="bold" fill="#000">π</text>
<text x="328.88" y="317.84" font-size="25.4" fill="#000">2</text>
<text x="373.50" y="339.94" font-size="45.0" font-style="italic" fill="#000">1</text>
<text x="241.14" y="415.62" font-size="45.0" font-style="italic" fill="#000">R</text>
<text x="269.63" y="437.42" font-size="36.2" font-style="italic" fill="#000">T</text>
<text x="306.67" y="415.92" font-size="44.5" font-style="italic" font-weight="bold" fill="#000">π</text>
<text x="328.88" y="393.52" font-size="25.4" fill="#000">2</text>
<text x="373.00" y="415.62" font-size="45.0" font-style="italic" fill="#000">2</text>
<text x="448.71" y="120.50" font-size="45" font-style="italic" font-weight="bold" fill="#000">μ</text>
<text transform="translate(482.58 120.5) scale(1.1 1)" font-size="45.0" font-style="italic" fill="#000">M</text>
<text x="552.26" y="120.50" font-size="45.0" font-style="italic" fill="#000">0.01</text>
<text x="732.44" y="1092.90" font-size="48.4" font-style="italic" fill="#262626">D</text>
<text x="769.20" y="1115.80" font-size="37.5" font-style="italic" fill="#262626" letter-spacing="2">psd</text>
<text transform="translate(41.5 546.61) rotate(-90)" font-size="48.4" font-style="italic" fill="#262626">ω</text>
<text transform="translate(64.6 514.15) rotate(-90)" font-size="37.5" font-style="italic" fill="#262626">cr</text>
<text x="1348.11" y="1102.30" font-size="44.3" fill="#262626">10</text>
<text x="1390.76" y="1079.90" font-size="36" fill="#262626">-</text>
<text x="1401.50" y="1079.90" font-size="36" fill="#262626">4</text>
</g>
</svg>
</body></html>
